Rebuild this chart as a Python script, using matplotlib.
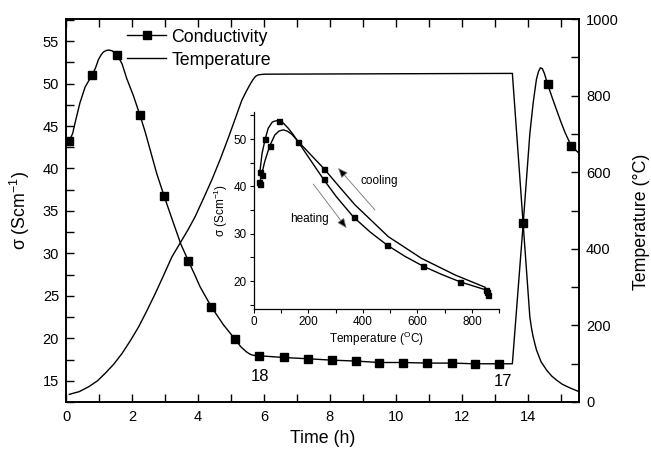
import matplotlib
matplotlib.use("Agg")
import matplotlib.pyplot as plt
from matplotlib.lines import Line2D
from matplotlib.ticker import MultipleLocator

plt.rcParams['font.family'] = ['Liberation Sans', 'DejaVu Sans']
plt.rcParams['mathtext.fontset'] = 'custom'
plt.rcParams['mathtext.rm'] = 'Liberation Sans'
plt.rcParams['mathtext.it'] = 'Liberation Sans:italic'

# ---- main panel: conductivity markers vs time ----
cond_t = [0.10, 0.80, 1.54, 2.24, 2.97, 3.71, 4.40, 5.13, 5.86, 6.60, 7.33,
          8.05, 8.78, 9.50, 10.23, 10.95, 11.69, 12.39, 13.13, 13.86, 14.60, 15.32]
cond_s = [43.27, 51.04, 53.40, 46.30, 36.80, 29.10, 23.74, 19.86, 17.94, 17.74, 17.59,
          17.43, 17.32, 17.15, 17.15, 17.08, 17.08, 17.00, 17.00, 33.60, 49.90, 42.60]

# conductivity trace
cond_line_t = [0.10, 0.20, 0.27, 0.42, 0.58, 0.70, 0.80, 0.90, 0.98, 1.06, 1.13, 1.22,
               1.31, 1.40, 1.54, 1.62, 1.70, 1.84, 2.04, 2.24, 2.40, 2.55, 2.75, 2.97,
               3.20, 3.48, 3.71, 3.90, 4.06, 4.40, 4.77, 5.13, 5.30, 5.47, 5.57, 5.65,
               5.75, 5.86, 6.60, 7.33, 8.05, 8.78, 9.50, 10.23, 10.95, 11.69, 12.39,
               13.13, 13.53, 13.86, 14.06, 14.16, 14.22, 14.26, 14.32, 14.38, 14.44,
               14.50, 14.60, 14.75, 14.87, 15.00, 15.12, 15.32, 15.55]
cond_line_s = [43.27, 44.1, 45.3, 47.7, 49.6, 50.4, 51.04, 51.9, 52.8, 53.35, 53.7, 53.9,
               53.94, 53.85, 53.40, 52.9, 52.3, 50.6, 48.6, 46.30, 44.3, 42.2, 39.4, 36.8,
               34.2, 31.1, 29.1, 27.5, 26.1, 23.74, 21.6, 19.86, 19.0, 18.40, 18.15, 18.02,
               17.97, 17.94, 17.74, 17.59, 17.43, 17.32, 17.15, 17.15, 17.08, 17.08, 17.00,
               17.00, 17.00, 33.60, 44.1, 47.7, 49.4, 50.5, 51.4, 51.86, 51.75,
               51.2, 49.90, 48.2, 46.9, 45.5, 44.3, 42.60, 41.8]

# temperature trace
temp_t = [0.10, 0.40, 0.69, 0.95, 1.19, 1.45, 1.70, 1.95, 2.20, 2.45, 2.71, 2.96,
          3.21, 3.48, 3.70, 3.92, 4.17, 4.42, 4.68, 4.93, 5.13, 5.33, 5.47, 5.59,
          5.67, 5.74, 5.82, 5.90, 6.04, 13.53, 14.06, 14.11, 14.16, 14.26, 14.40,
          14.57, 14.72, 14.87, 15.05, 15.27, 15.55]
temp_T = [20, 27, 40, 55, 75, 99, 127, 160, 196, 238, 284, 331,
          379, 418, 450, 485, 532, 580, 635, 692, 740, 788, 812, 831,
          842, 850, 854, 855, 856, 858, 222, 193, 170, 136, 105,
          83, 68, 57, 46, 37, 27]

# ---- inset: conductivity vs temperature ----
heat_T = [22, 41.6, 90.5, 162.7, 255.6, 366, 489, 621, 757, 853]
heat_s = [43.15, 50.06, 53.9, 49.4, 41.5, 33.5, 27.6, 23.15, 19.83, 18.1]
heat_line_T = [22, 30, 41.6, 52.5, 67.3, 78, 90.5, 108, 126, 145, 162.7, 212, 255.6,
               303, 366, 428, 489, 555, 621, 689, 757, 853]
heat_line_s = [43.15, 47.0, 50.06, 52.3, 53.6, 53.85, 53.9, 53.4, 52.3, 50.9, 49.4,
               45.2, 41.5, 37.8, 33.5, 30.3, 27.6, 25.2, 23.15, 21.4, 19.83, 18.1]

cool_T = [858, 857, 258, 57.5, 28, 20, 22]
cool_s = [17.1, 17.6, 43.7, 48.5, 42.45, 41.0, 40.6]
cool_line_T = [858, 848, 738, 615, 493, 371, 314, 258, 212, 162.7, 138, 122, 107.6,
               92, 77, 57.5, 40, 28, 21]
cool_line_s = [17.3, 18.7, 21.3, 24.8, 29.4, 36.1, 39.9, 43.7, 46.5, 49.5, 51.1, 51.7,
               51.97, 51.7, 50.9, 48.5, 45.3, 42.45, 40.6]

fig = plt.figure(figsize=(6.51, 4.55), dpi=100)
ax = fig.add_axes([0.1014, 0.1165, 0.788, 0.8417])
ax2 = ax.twinx()

ax.plot(cond_line_t, cond_line_s, color='black', lw=1.0, zorder=3)
ax.plot(cond_t, cond_s, ls='none', marker='s', ms=6, color='black', zorder=4)
ax2.plot(temp_t, temp_T, color='black', lw=1.0)

ax.set_xlim(0, 15.55)
ax.set_ylim(12.5, 57.6)
ax2.set_ylim(0, 1000)

ax.xaxis.set_major_locator(MultipleLocator(2))
ax.xaxis.set_minor_locator(MultipleLocator(1))
ax.yaxis.set_major_locator(MultipleLocator(5))
ax.yaxis.set_minor_locator(MultipleLocator(2.5))
ax2.yaxis.set_major_locator(MultipleLocator(200))
ax2.yaxis.set_minor_locator(MultipleLocator(100))

for a in (ax, ax2):
    for s in a.spines.values():
        s.set_linewidth(1.2)
ax.tick_params(axis='both', which='both', direction='in', length=6, width=1.0,
               labelsize=10.5, top=True, right=False)
ax.tick_params(axis='x', pad=6)
ax.tick_params(axis='y', pad=5)
ax2.tick_params(axis='y', which='both', direction='in', length=6, width=1.0,
                labelsize=10.5, pad=5)

ax.set_xlabel('Time (h)', fontsize=12.8)
ax.set_ylabel(r'σ (Scm$^{-1}$)', fontsize=12.8)
ax2.set_ylabel('Temperature (°C)', fontsize=12.8)
ax.xaxis.set_label_coords(0.5, -0.072)
ax.yaxis.set_label_coords(-0.066, 0.5)
ax2.yaxis.set_label_coords(1.105, 0.47)

ax.text(5.88, 15.5, '18', fontsize=12, ha='center', va='center')
ax.text(13.25, 14.9, '17', fontsize=12, ha='center', va='center')

handles = [Line2D([], [], color='black', lw=1.0, marker='s', ms=6),
           Line2D([], [], color='black', lw=1.0)]
ax2.legend(handles, ['Conductivity', 'Temperature'], loc='upper left',
           bbox_to_anchor=(0.195, 0.937), bbox_transform=fig.transFigure,
           frameon=False, fontsize=12.8, handlelength=2.2, handletextpad=0.3,
           labelspacing=0.33, borderaxespad=0, borderpad=0)

# inset
ins = fig.add_axes([0.390, 0.3209, 0.3768, 0.4336])
ins.patch.set_alpha(0)
ins.plot(heat_line_T, heat_line_s, color='black', lw=1.0)
ins.plot(cool_line_T, cool_line_s, color='black', lw=1.0)
ins.plot(heat_T, heat_s, ls='none', marker='s', ms=3.6, color='black')
ins.plot(cool_T, cool_s, ls='none', marker='s', ms=3.6, color='black')
ins.set_xlim(0, 900)
ins.set_ylim(14.1, 55.8)
ins.spines['top'].set_visible(False)
ins.spines['right'].set_visible(False)
for s in ('left', 'bottom'):
    ins.spines[s].set_linewidth(0.9)
ins.xaxis.set_major_locator(MultipleLocator(200))
ins.xaxis.set_minor_locator(MultipleLocator(100))
ins.yaxis.set_major_locator(MultipleLocator(10))
ins.yaxis.set_minor_locator(MultipleLocator(5))
ins.tick_params(axis='both', which='both', direction='out', length=3, width=0.8,
                labelsize=8.5, pad=2)
ins.set_xlabel(r'Temperature ($^{\mathrm{O}}$C)', fontsize=8.5, labelpad=1)
ins.set_ylabel(r'σ (Scm$^{-1}$)', fontsize=8.5, labelpad=3)

ins.annotate('', xy=(309, 43.9), xytext=(444, 35.05),
             arrowprops=dict(arrowstyle='-|>,head_length=0.6,head_width=0.25',
                             lw=0.6, edgecolor='0.45', facecolor='black',
                             shrinkA=0, shrinkB=0))
ins.annotate('', xy=(340, 31.2), xytext=(218, 40.5),
             arrowprops=dict(arrowstyle='-|>,head_length=0.6,head_width=0.25',
                             lw=0.6, edgecolor='0.45', facecolor='black',
                             shrinkA=0, shrinkB=0))
ins.text(459, 41.2, 'cooling', fontsize=8.5, ha='center', va='center')
ins.text(204, 33.15, 'heating', fontsize=8.5, ha='center', va='center')

fig.savefig('out.png', dpi=100)
